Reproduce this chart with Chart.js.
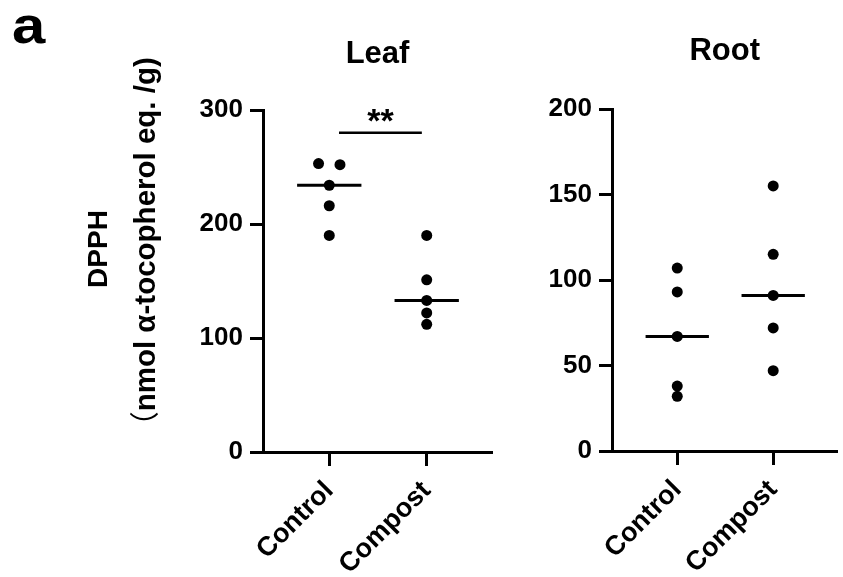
<!DOCTYPE html>
<html><head><meta charset="utf-8">
<script src="https://cdn.jsdelivr.net/npm/chart.js@4"></script>
<style>
html,body{margin:0;padding:0;background:#fff;}
#wrap{position:relative;width:843px;height:577px;overflow:hidden;font-family:'Liberation Sans',Arial,sans-serif;color:#000;}
canvas{position:absolute;left:0;top:0;}
#panel{position:absolute;left:12px;top:-1px;font-size:52px;font-weight:bold;line-height:1;transform:scaleX(1.15);transform-origin:left top;}
#ytitle{position:absolute;width:460px;left:-112.5px;top:208px;height:82px;line-height:41px;font-weight:bold;text-align:center;transform:rotate(-90deg);white-space:nowrap;}
#ytitle .l1{font-size:28px;}
#ytitle .l2{font-size:29.5px;}
#ytitle .p{font-family:'Noto Sans CJK JP',sans-serif;font-weight:normal;}
</style></head>
<body><div id="wrap">
<canvas id="leaf" width="843" height="577"></canvas>
<canvas id="root" width="843" height="577"></canvas>
<div id="panel">a</div>
<div id="ytitle"><span class="l1">DPPH</span><br><span class="l2"><span class="p">（</span>nmol α-tocopherol eq. /g)</span></div>
</div>
<script>
// ---- data ----
const categories = ['Control', 'Compost'];
const leafControl = [253, 252, 234, 216, 190];
const leafCompost = [190, 151, 133, 122, 112];
const rootControl = [107, 93, 67, 38, 32];
const rootCompost = [155, 115, 91, 72, 47];
const leafTicks = [0, 100, 200, 300];
const rootTicks = [0, 50, 100, 150, 200];
const leafSigLevel = 280;
const leafSigSpan = [0.1, 0.95];
const leafSigLabel = '**';

// ---- helpers ----
const FONT = "'Liberation Sans', Arial, sans-serif";
function median(a){const s=[...a].sort((x,y)=>x-y);const n=s.length;return n%2?s[(n-1)/2]:(s[n/2-1]+s[n/2])/2;}
function swarm(vals, minGap, step){
  const idx = vals.map((v,i)=>i).sort((a,b)=>vals[b]-vals[a]);
  const offs = new Array(vals.length).fill(0);
  let grp=[idx[0]];
  const flush=()=>{const n=grp.length;grp.forEach((k,j)=>offs[k]=(j-(n-1)/2)*step);};
  for(let i=1;i<idx.length;i++){
    if(Math.abs(vals[idx[i]]-vals[grp[grp.length-1]])<minGap) grp.push(idx[i]);
    else {flush(); grp=[idx[i]];}
  }
  flush();
  return offs;
}

function makePanel(id, title, groups, ticks, pad, titleGap, sig){
  const datasets=[];
  groups.forEach((vals,gi)=>{
    const offs=swarm(vals,5,0.22);
    datasets.push({type:'scatter',data:vals.map((v,i)=>({x:gi+offs[i],y:v})),pointRadius:5.5,pointHoverRadius:5.5,
      pointBackgroundColor:'#000',pointBorderWidth:0,showLine:false});
    const m=median(vals);
    datasets.push({type:'line',data:[{x:gi-0.33,y:m},{x:gi+0.33,y:m}],borderColor:'#000',borderWidth:3,
      pointRadius:0,showLine:true,borderCapStyle:'butt',fill:false});
  });
  if(sig){
    datasets.push({type:'line',data:[{x:sig.span[0],y:sig.level},{x:sig.span[1],y:sig.level}],borderColor:'#000',
      borderWidth:2.5,pointRadius:0,showLine:true,borderCapStyle:'butt',fill:false});
  }
  const textPlugin={id:'txt',afterDraw(chart){
    const ctx=chart.ctx, ca=chart.chartArea;
    ctx.save();
    ctx.fillStyle='#000';
    ctx.font='bold 31px '+FONT;
    ctx.textAlign='center';ctx.textBaseline='alphabetic';
    ctx.fillText(title,(ca.left+ca.right)/2,ca.top-titleGap);
    if(sig){
      const xs=chart.scales.x, ys=chart.scales.y;
      ctx.font='bold 34px '+FONT;
      ctx.fillText(sig.label,xs.getPixelForValue((sig.span[0]+sig.span[1])/2),ys.getPixelForValue(sig.level)-1);
    }
    ctx.restore();
  }};
  new Chart(document.getElementById(id),{
    type:'scatter',
    data:{datasets},
    plugins:[textPlugin],
    options:{
      responsive:false,animation:false,devicePixelRatio:1,
      layout:{padding:pad},
      plugins:{legend:{display:false},tooltip:{enabled:false},title:{display:false}},
      scales:{
        x:{type:'linear',min:-0.68,max:1.67,
          afterBuildTicks:s=>{s.ticks=categories.map((c,i)=>({value:i}));},
          afterFit:s=>{s.height=125;},
          ticks:{callback:v=>categories[v],autoSkip:false,minRotation:45,maxRotation:45,padding:9,color:'#000',
            font:{family:FONT,size:27,weight:'bold'}},
          grid:{drawOnChartArea:false,drawTicks:true,tickLength:14,tickWidth:3,tickColor:'#000'},
          border:{display:true,color:'#000',width:3}},
        y:{type:'linear',min:ticks[0],max:ticks[ticks.length-1],
          afterBuildTicks:s=>{s.ticks=ticks.map(v=>({value:v}));},
          afterFit:s=>{s.width=80;},
          ticks:{padding:7,color:'#000',font:{family:FONT,size:26,weight:'bold'}},
          grid:{drawOnChartArea:false,drawTicks:true,tickLength:13,tickWidth:3,tickColor:'#000'},
          border:{display:true,color:'#000',width:3}}
      }
    }
  });
}

makePanel('leaf','Leaf',[leafControl,leafCompost],leafTicks,{left:183,right:351,top:110,bottom:0},47,
  {level:leafSigLevel,span:leafSigSpan,label:leafSigLabel});
makePanel('root','Root',[rootControl,rootCompost],rootTicks,{left:532,right:2,top:109,bottom:1},49,null);
</script>
</body></html>
